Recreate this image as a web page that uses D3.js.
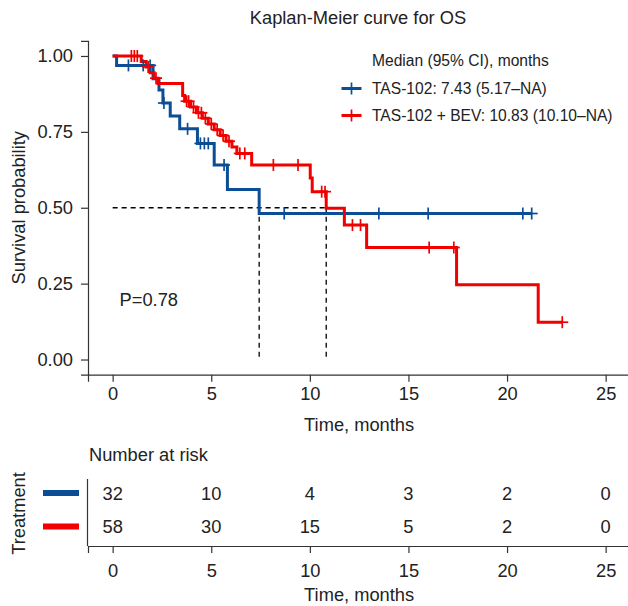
<!DOCTYPE html>
<html>
<head>
<meta charset="utf-8">
<script src="https://cdn.jsdelivr.net/npm/d3@7"></script>
<style>
  html, body { margin: 0; padding: 0; background: #fff; }
  svg { display: block; }
  text { font-family: "Liberation Sans", Arial, Helvetica, sans-serif; fill: #222; }
</style>
</head>
<body>
<svg id="chart" width="628" height="606"></svg>
<script>
// ---------------- data ----------------
const groups = ["TAS-102", "TAS-102 + BEV"];
const groupColors = ["#0B4E96", "#F20000"];
const legendLabels = ["TAS-102: 7.43 (5.17\u2013NA)", "TAS-102 + BEV: 10.83 (10.10\u2013NA)"];
const legendTitle = "Median (95% CI), months";
const chartTitle = "Kaplan-Meier curve for OS";
const pValueLabel = "P=0.78";

// TAS-102 step curve
const blueTimes = [0, 0.2, 2.05, 2.35, 2.55, 2.92, 3.4, 4.3, 5.15, 5.82, 7.43];
const blueSurv  = [1, 0.969, 0.925, 0.888, 0.845, 0.802, 0.760, 0.712, 0.641, 0.560, 0.481];
const blueEnd = 21.25;
const blueCensor = [0.8, 1.55, 1.9, 2.6, 3.8, 4.45, 4.65, 4.85, 5.65, 8.7, 13.5, 16.0, 20.8, 21.25];

// TAS-102 + BEV step curve
const redTimes = [0, 1.45, 1.7, 1.9, 2.1, 2.3, 3.55, 3.65, 3.95, 4.25, 4.55, 4.85, 5.15, 5.45, 5.75, 6.05, 6.3, 7.05, 10.02, 10.12, 10.83, 11.75, 12.88, 17.44, 21.58];
const redSurv  = [1, 0.982, 0.964, 0.945, 0.927, 0.909, 0.870, 0.851, 0.832, 0.813, 0.795, 0.776, 0.757, 0.738, 0.719, 0.700, 0.679, 0.641, 0.598, 0.553, 0.498, 0.443, 0.369, 0.246, 0.123];
const redEnd = 22.8;
const redCensor = [0.95, 1.1, 1.25, 1.8, 2.2, 3.75, 3.85, 4.1, 4.35, 4.5, 4.7, 5.0, 5.3, 5.6, 5.9, 6.45, 6.7, 8.15, 9.4, 10.6, 10.77, 12.16, 12.57, 16.05, 17.3, 22.8];

// medians
const medians = [7.43, 10.83];
const medianSurv = 0.5;

// ticks
const xTicks = [0, 5, 10, 15, 20, 25];
const yTicks = [0, 0.25, 0.5, 0.75, 1];
const xLabel = "Time, months";
const yLabel = "Survival probability";

// risk table
const riskTimes = [0, 5, 10, 15, 20, 25];
const riskBlue = [32, 10, 4, 3, 2, 0];
const riskRed  = [58, 30, 15, 5, 2, 0];
const riskTitle = "Number at risk";
const riskYLabel = "Treatment";

// ---------------- drawing ----------------
const svg = d3.select("#chart");
const FS = 18.3;

const x = d3.scaleLinear().domain([-1.25, 26.25]).range([88, 630.3]);
const y = d3.scaleLinear().domain([-0.05, 1.05]).range([374.7, 40.8]);

const curves = [
  { times: blueTimes, surv: blueSurv, end: blueEnd, censor: blueCensor, color: groupColors[0] },
  { times: redTimes, surv: redSurv, end: redEnd, censor: redCensor, color: groupColors[1] }
];

// title
svg.append("text").attr("x", 358).attr("y", 24).attr("text-anchor", "middle")
  .style("font-size", FS + "px").text(chartTitle);

// axes
const axisColor = "#333";
const xAxis = svg.append("g").attr("transform", `translate(0,${y(-0.05)})`)
  .call(d3.axisBottom(x).tickValues(xTicks).tickSizeOuter(0).tickSize(7).tickPadding(5).tickFormat(d3.format("d")));
const yAxis = svg.append("g").attr("transform", `translate(${x(-1.25)},0)`)
  .call(d3.axisLeft(y).tickValues(yTicks).tickSizeOuter(0).tickSize(7).tickPadding(8).tickFormat(d3.format(".2f")));
[xAxis, yAxis].forEach(g => {
  g.select(".domain").attr("stroke", axisColor).attr("stroke-width", 1.2);
  g.selectAll(".tick line").attr("stroke", axisColor).attr("stroke-width", 1.2);
  g.selectAll(".tick text").style("font-size", FS + "px").attr("fill", "#222")
    .style("font-family", "'Liberation Sans', Arial, sans-serif");
});

svg.append("text").attr("x", x(12.5)).attr("y", 431).attr("text-anchor", "middle")
  .style("font-size", FS + "px").text(xLabel);
svg.append("text").attr("transform", `translate(25,${(y(-0.05) + y(1.05)) / 2}) rotate(-90)`)
  .attr("text-anchor", "middle").style("font-size", FS + "px").text(yLabel);

// median dashed lines
const dash = "5,4";
svg.append("line").attr("x1", x(0)).attr("x2", x(d3.max(medians)))
  .attr("y1", y(medianSurv)).attr("y2", y(medianSurv))
  .attr("stroke", "#000").attr("stroke-width", 1.3).attr("stroke-dasharray", dash);
medians.forEach(m => {
  svg.append("line").attr("x1", x(m)).attr("x2", x(m))
    .attr("y1", y(medianSurv)).attr("y2", y(0))
    .attr("stroke", "#000").attr("stroke-width", 1.3).attr("stroke-dasharray", dash);
});

// step curves
function stepPoints(c) {
  const pts = c.times.map((t, i) => [t, c.surv[i]]);
  pts.push([c.end, c.surv[c.surv.length - 1]]);
  return pts;
}
function survAt(c, t) {
  let s = 1;
  for (let i = 0; i < c.times.length; i++) if (c.times[i] <= t) s = c.surv[i];
  return s;
}
const line = d3.line().x(d => x(d[0])).y(d => y(d[1])).curve(d3.curveStepAfter);

curves.forEach(c => {
  svg.append("path").datum(stepPoints(c)).attr("d", line)
    .attr("fill", "none").attr("stroke", c.color).attr("stroke-width", 3)
    .attr("stroke-linejoin", "miter").attr("stroke-linecap", "butt");
});
curves.forEach(c => {
  const g = svg.append("g");
  c.censor.forEach(t => {
    const cx = x(t), cy = y(survAt(c, t));
    g.append("line").attr("x1", cx).attr("x2", cx).attr("y1", cy - 6).attr("y2", cy + 6)
      .attr("stroke", c.color).attr("stroke-width", 1.7);
    g.append("line").attr("x1", cx - 6).attr("x2", cx + 6).attr("y1", cy).attr("y2", cy)
      .attr("stroke", c.color).attr("stroke-width", 1.7);
  });
});

// p value
svg.append("text").attr("x", x(0.35)).attr("y", 306).style("font-size", FS + "px").text(pValueLabel);

// legend
const LFS = 15.6;
svg.append("text").attr("x", 372).attr("y", 65.5).style("font-size", LFS + "px").text(legendTitle);
const legendY = [88.5, 115.5];
groups.forEach((gname, i) => {
  const ly = legendY[i];
  svg.append("line").attr("x1", 341.5).attr("x2", 361.5).attr("y1", ly).attr("y2", ly)
    .attr("stroke", groupColors[i]).attr("stroke-width", 3);
  svg.append("line").attr("x1", 351.5).attr("x2", 351.5).attr("y1", ly - 6).attr("y2", ly + 6)
    .attr("stroke", groupColors[i]).attr("stroke-width", 1.7);
  svg.append("text").attr("x", 372).attr("y", ly + 5.6).style("font-size", LFS + "px").text(legendLabels[i]);
});

// ---------------- risk table ----------------
svg.append("text").attr("x", 89).attr("y", 461).style("font-size", FS + "px").text(riskTitle);

const rowY = d3.scalePoint().domain(groups).range([493, 526.5]);
const tableTop = 479, tableBottom = 546;

const rxAxis = svg.append("g").attr("transform", `translate(0,${tableBottom})`)
  .call(d3.axisBottom(x).tickValues(xTicks).tickSizeOuter(0).tickSize(7).tickPadding(11).tickFormat(d3.format("d")));
rxAxis.select(".domain").attr("stroke", axisColor).attr("stroke-width", 1.2);
rxAxis.selectAll(".tick line").attr("stroke", axisColor).attr("stroke-width", 1.2);
rxAxis.selectAll(".tick text").style("font-size", FS + "px").attr("fill", "#222")
  .style("font-family", "'Liberation Sans', Arial, sans-serif");

svg.append("line").attr("x1", 87.5).attr("x2", 87.5).attr("y1", tableTop).attr("y2", tableBottom)
  .attr("stroke", axisColor).attr("stroke-width", 1.2);

[riskBlue, riskRed].forEach((row, i) => {
  const ry = rowY(groups[i]);
  row.forEach((n, j) => {
    svg.append("text").attr("x", x(riskTimes[j])).attr("y", ry + 6.5)
      .attr("text-anchor", "middle").style("font-size", FS + "px").text(n);
  });
  svg.append("line").attr("x1", 43).attr("x2", 79).attr("y1", ry).attr("y2", ry)
    .attr("stroke", groupColors[i]).attr("stroke-width", 6);
});

svg.append("text").attr("x", x(12.5)).attr("y", 601).attr("text-anchor", "middle")
  .style("font-size", FS + "px").text(xLabel);
svg.append("text").attr("transform", `translate(25,${(tableTop + tableBottom) / 2 + 1}) rotate(-90)`)
  .attr("text-anchor", "middle").style("font-size", FS + "px").text(riskYLabel);
</script>
</body>
</html>
